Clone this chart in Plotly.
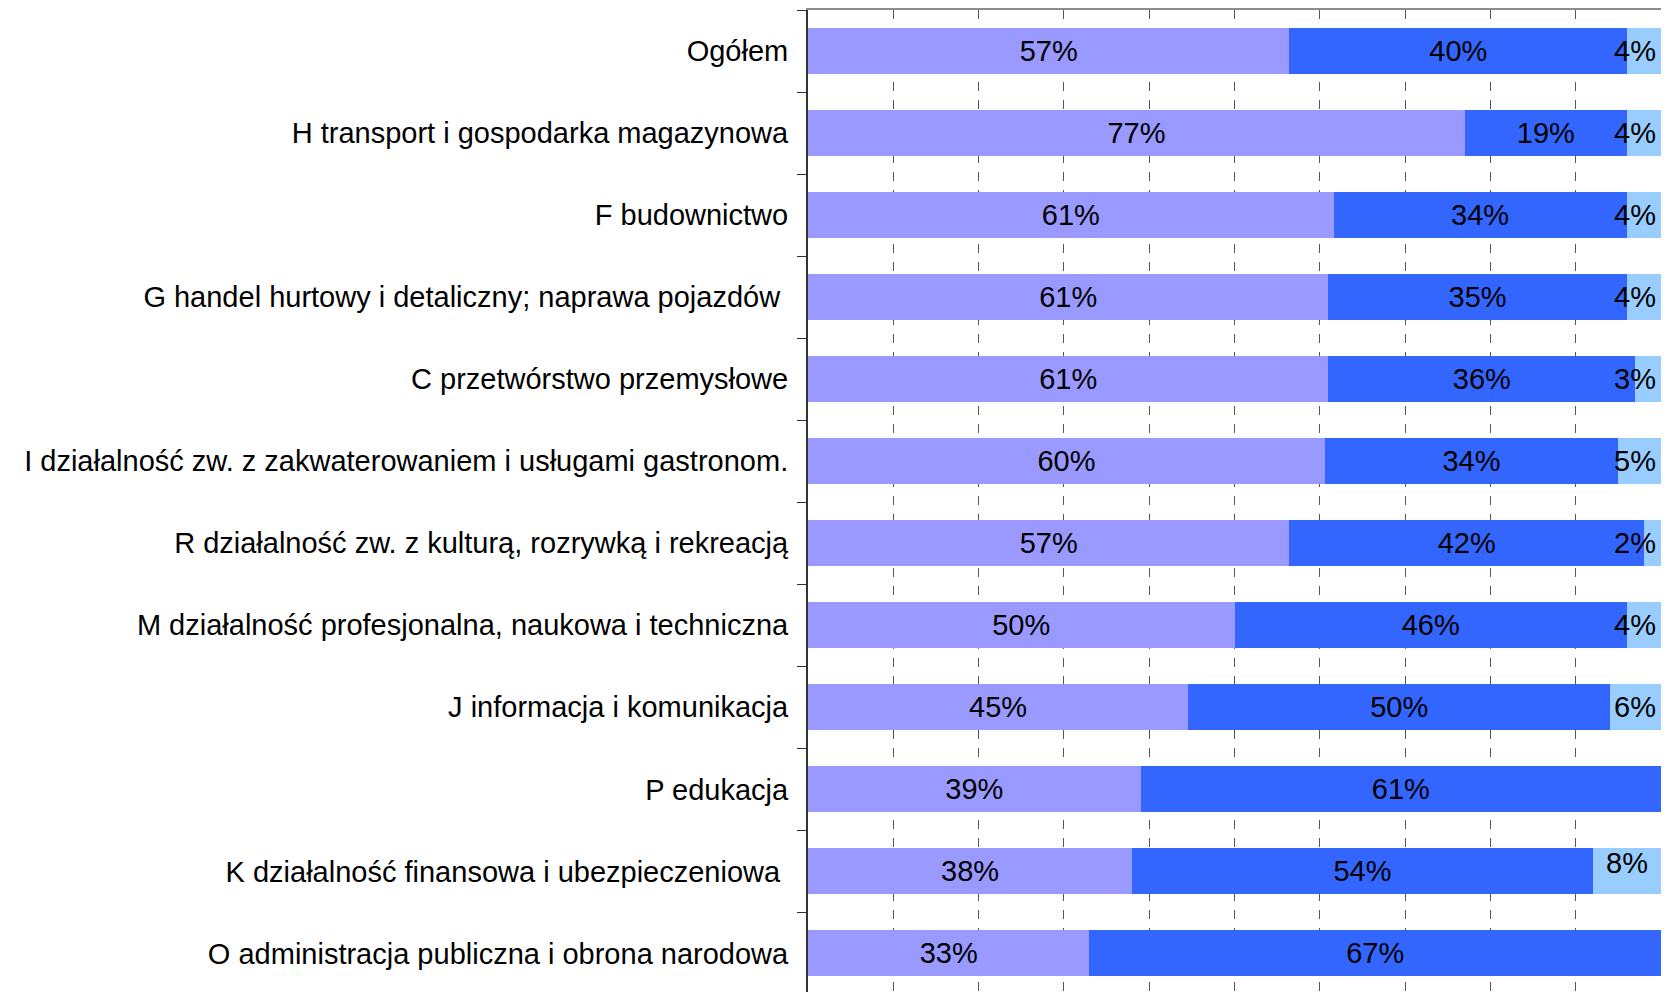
import plotly.graph_objects as go

categories = [
    "Ogółem",
    "H transport i gospodarka magazynowa",
    "F budownictwo",
    "G handel hurtowy i detaliczny; naprawa pojazdów ",
    "C przetwórstwo przemysłowe",
    "I działalność zw. z zakwaterowaniem i usługami gastronom.",
    "R działalność zw. z kulturą, rozrywką i rekreacją",
    "M działalność profesjonalna, naukowa i techniczna",
    "J informacja i komunikacja",
    "P edukacja",
    "K działalność finansowa i ubezpieczeniowa ",
    "O administracja publiczna i obrona narodowa",
]

series1 = [57, 77, 61, 61, 61, 60, 57, 50, 45, 39, 38, 33]
series2 = [40, 19, 34, 35, 36, 34, 42, 46, 50, 61, 54, 67]
series3 = [4, 4, 4, 4, 3, 5, 2, 4, 6, 0, 8, 0]

colors = ["#9999FF", "#3366FF", "#99CCFF"]
FONT = "Liberation Sans, Arial, sans-serif"
FS = 29

def labels(vals):
    return [f"{v}%" if v else "" for v in vals]

fig = go.Figure()
for vals, col, txt in [(series1, colors[0], True),
                       (series2, colors[1], True),
                       (series3, colors[2], False)]:
    fig.add_trace(go.Bar(
        y=categories, x=vals, orientation="h",
        marker=dict(color=col, line=dict(width=0)),
        text=labels(vals) if txt else None,
        textposition="inside" if txt else "none",
        insidetextanchor="middle", constraintext="none", textangle=0,
        textfont=dict(family=FONT, size=FS, color="black"),
    ))

# labels of the small third segment, kept inside the plot area
for cat, a, b, c in zip(categories, series1, series2, series3):
    if not c:
        continue
    total = a + b + c
    mid = (a + b + c / 2) / total * 100
    fig.add_annotation(
        x=min(mid, 96.9), y=cat, xref="x", yref="y",
        text=f"{c}%", showarrow=False, xanchor="center",
        yshift=8 if mid < 96.9 else 0,
        font=dict(family=FONT, size=FS, color="black"),
    )

fig.update_layout(
    barmode="stack", barnorm="percent", bargap=0.44,
    width=1663, height=984,
    margin=dict(l=800, r=10, t=0, b=0),
    plot_bgcolor="white", paper_bgcolor="white",
    showlegend=False,
    font=dict(family=FONT, size=FS, color="black"),
)
fig.update_xaxes(
    range=[0, 100], dtick=10, showticklabels=False, ticks="",
    showgrid=True, gridcolor="#555555", griddash="dash", gridwidth=1,
    showline=True, mirror=True, linecolor="#8c8c8c", linewidth=2,
    zeroline=False,
)
fig.update_yaxes(
    categoryorder="array", categoryarray=categories,
    range=[11.47, -0.5],
    ticks="outside", ticklen=9, tickcolor="#333333", tickwidth=1,
    tickson="boundaries", ticklabelstandoff=12,
    showgrid=False, showline=True, linecolor="#333333", linewidth=2,
    tickfont=dict(family=FONT, size=FS, color="black"),
)
fig.write_html("out.html")
